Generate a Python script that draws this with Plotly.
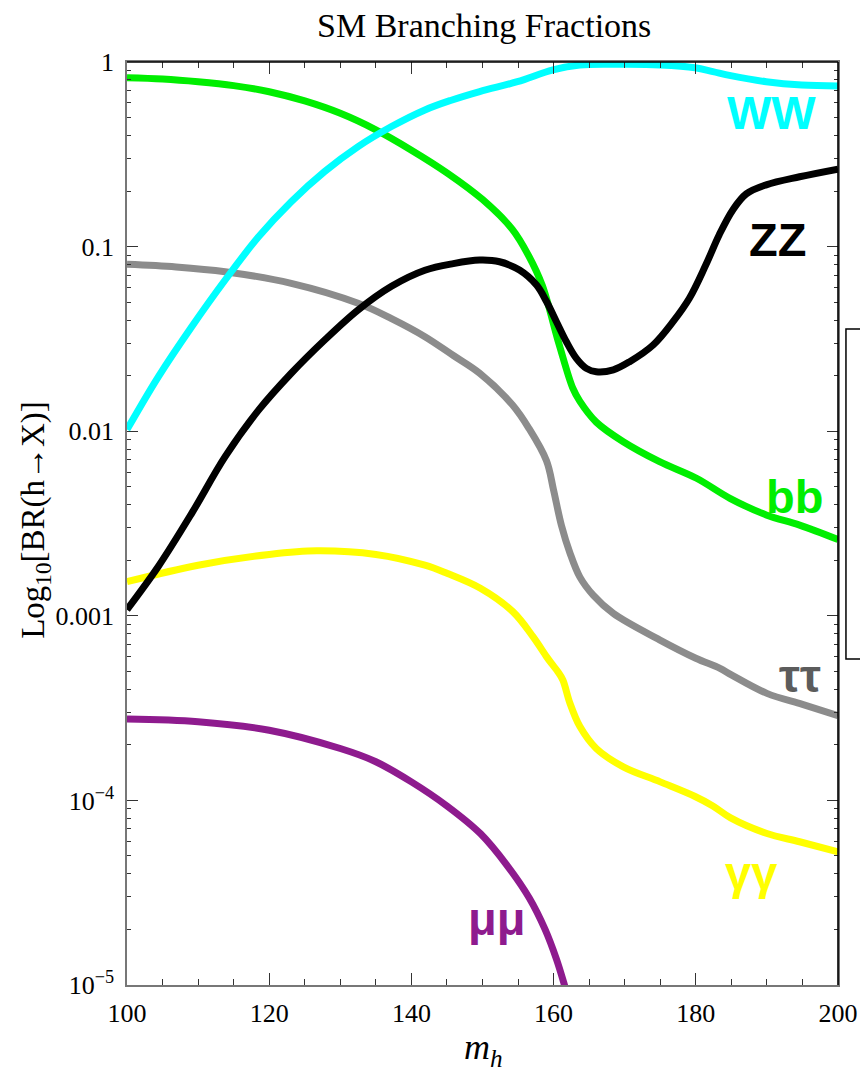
import plotly.graph_objects as go

# ---- data ----
mh_ww = [100, 104.4, 109.1, 113.8, 118.5, 123.1, 127.8, 132.5, 137.2, 141.9, 145.5, 149.6, 154.9, 159.9, 163.7,
         170, 175, 179.9, 182.4, 184.9, 189.9, 194.9, 200]
br_ww = [0.0102, 0.0197, 0.0368, 0.0659, 0.113, 0.175, 0.255, 0.348, 0.447, 0.550, 0.619, 0.692, 0.782, 0.906,
         0.964, 0.971, 0.964, 0.931, 0.887, 0.843, 0.782, 0.750, 0.741]

mh_bb = [100, 105, 110, 115, 120, 125, 130, 135, 140, 145, 150, 154.2, 156.5, 158.4, 160.8, 162.7, 163.7, 166,
         169.8, 174.9, 180.1, 184.8, 189.9, 194.6, 200]
br_bb = [0.822, 0.809, 0.782, 0.745, 0.690, 0.615, 0.527, 0.429, 0.333, 0.251, 0.180, 0.124, 0.0891, 0.0617,
         0.0293, 0.0171, 0.0145, 0.0112, 0.00877, 0.00684, 0.00556, 0.00433, 0.00352, 0.00310, 0.00259]

mh_zz = [100, 104.4, 109.1, 113.8, 118.5, 123.1, 127.8, 132.5, 137.2, 141.9, 145.9, 149.6, 152.4, 155.2, 157.6,
         159.0, 160.4, 161.8, 163.2, 164.6, 166.0, 168.4, 170.7, 174.0, 176.8, 179.1, 181.4, 183.3, 185.2, 187.1,
         189.9, 194.6, 200]
br_zz = [0.00108, 0.00185, 0.00359, 0.00728, 0.0130, 0.0206, 0.0312, 0.0454, 0.0610, 0.0745, 0.0809, 0.0845,
         0.0828, 0.0746, 0.0619, 0.0504, 0.0392, 0.0305, 0.0248, 0.0219, 0.0210, 0.0215, 0.0238, 0.0293, 0.0392,
         0.0525, 0.0794, 0.116, 0.158, 0.193, 0.216, 0.239, 0.263]

mh_tt = [100, 106.9, 113.8, 123.1, 132.5, 137.2, 141.9, 145.9, 149.6, 154.2, 156.5, 159.0, 160.0, 161.1, 162.3,
         163.7, 165.6, 168.4, 174.9, 180, 183.4, 185, 190, 195, 200]
br_tt = [0.0802, 0.0776, 0.0731, 0.0632, 0.0493, 0.0407, 0.0325, 0.0257, 0.0206, 0.0139, 0.0104, 0.00692, 0.00479,
         0.00309, 0.00219, 0.00162, 0.00129, 0.00103, 0.000741, 0.000589, 0.000519, 0.000479, 0.00038, 0.000331,
         0.000288]

mh_aa = [100, 110, 120, 126.7, 135, 141.9, 145, 149.7, 154.3, 157.1, 159.0, 159.7, 160.6, 161.3, 162.3,
         163.7, 166.0, 169.8, 175.0, 179.9, 182.4, 184.9, 189.9, 194.6, 200]
br_aa = [0.00153, 0.00188, 0.00215, 0.00225, 0.00215, 0.00188, 0.0017, 0.00141, 0.00105, 0.000771,
         0.000601, 0.000552, 0.000498, 0.000449, 0.000336, 0.000251, 0.000191, 0.000152, 0.000126, 0.000105,
         9.33e-5, 8.04e-5, 6.64e-5, 5.97e-5, 5.27e-5]

mh_mm = [100, 110, 120, 130, 135, 140, 145, 149.7, 153.6, 156.6, 158.8, 160.4, 161.6, 163]
br_mm = [0.000276, 0.000267, 0.00024, 0.000191, 0.000162, 0.000126, 9.33e-5, 6.61e-5, 4.37e-5, 2.95e-5, 2.0e-5,
         1.38e-5, 9.77e-6, 6.3e-6]

y_tickvals = [1e-5, 1e-4, 1e-3, 1e-2, 1e-1, 1]
y_ticktext = ["10<sup>\u22125</sup>", "10<sup>\u22124</sup>", "0.001", "0.01", "0.1", "1"]
x_tickvals = [100, 120, 140, 160, 180, 200]

series = [
    (mh_bb, br_bb, "#00ee00", "bb"),
    (mh_tt, br_tt, "#8c8c8c", "\u03c4\u03c4"),
    (mh_aa, br_aa, "#ffff00", "\u03b3\u03b3"),
    (mh_mm, br_mm, "#8e1b8e", "\u03bc\u03bc"),
    (mh_ww, br_ww, "#00ffff", "WW"),
    (mh_zz, br_zz, "#000000", "ZZ"),
]

fig = go.Figure()
for xs, ys, col, name in series:
    fig.add_trace(go.Scatter(x=xs, y=ys, mode="lines", name=name,
                             line=dict(color=col, width=7, shape="spline", smoothing=1.0)))

minor_y = [k * 10.0 ** e for e in range(-5, 0) for k in range(2, 10)]

serif = "Liberation Serif, Times New Roman, serif"
sans = "Liberation Sans, Arial, sans-serif"

fig.update_layout(
    width=860, height=1073,
    margin=dict(l=127, r=22, t=62, b=88, autoexpand=False),
    paper_bgcolor="white", plot_bgcolor="white",
    showlegend=False,
    font=dict(family=serif, size=25, color="black"),
)
fig.update_xaxes(
    range=[100, 200], tickmode="array", tickvals=x_tickvals, automargin=False,
    ticks="inside", ticklen=12, tickwidth=1.3, tickcolor="#333",
    showline=True, linecolor="#777", linewidth=1.6, mirror="allticks",
    showgrid=False, zeroline=False, ticklabelstandoff=4,
    tickfont=dict(family=serif, size=26, color="black"),
    minor=dict(dtick=5, ticks="inside", ticklen=6, tickwidth=1.1, tickcolor="#333", showgrid=False),
)
fig.update_yaxes(
    type="log", range=[-5, 0], tickmode="array", tickvals=y_tickvals, ticktext=y_ticktext, automargin=False,
    ticks="inside", ticklen=11, tickwidth=1.3, tickcolor="#333",
    showline=True, linecolor="#777", linewidth=1.6, mirror="allticks",
    showgrid=False, zeroline=False, ticklabelstandoff=6,
    tickfont=dict(family=serif, size=26, color="black"),
    minor=dict(tickmode="array", tickvals=minor_y, ticks="inside", ticklen=4, tickwidth=1.1,
               tickcolor="#333", showgrid=False),
)

# black top / right frame lines
fig.add_shape(type="line", xref="paper", yref="paper", x0=0, x1=1, y0=1, y1=1,
              line=dict(color="black", width=1.6))
fig.add_shape(type="line", xref="paper", yref="paper", x0=1, x1=1, y0=0, y1=1,
              line=dict(color="black", width=1.6))
# partially visible legend frame at right edge
fig.add_shape(type="rect", xref="paper", yref="paper", x0=1.0112, x1=1.2, y0=0.3532, y1=0.7107,
              line=dict(color="black", width=1.5), fillcolor="rgba(0,0,0,0)")

labels = [
    ("WW", 190.65, -0.276, "#00ffff"),
    ("ZZ", 191.5, -0.964, "#000000"),
    ("bb", 193.9, -2.356, "#00ee00"),
    ("\u03c4\u03c4", 194.6, -3.326, "#5c5c5c"),
    ("\u03b3\u03b3", 187.7, -4.39, "#ffff00"),
    ("\u03bc\u03bc", 152.0, -4.64, "#8e1b8e"),
]
for txt, x, ly, col in labels:
    fig.add_annotation(text="<b>%s</b>" % txt, x=x, y=ly, xref="x", yref="y", showarrow=False,
                       font=dict(family=sans, size=47, color=col), xanchor="center", yanchor="middle")

fig.add_annotation(text="SM Branching Fractions", xref="paper", yref="paper", x=0.502, y=1.040,
                   showarrow=False, font=dict(family=serif, size=34, color="black"),
                   xanchor="center", yanchor="middle")
fig.add_annotation(text="Log<sub>10</sub>[BR(h\u2192X)]", xref="paper", yref="paper", x=-0.128, y=0.504,
                   textangle=-90, showarrow=False, font=dict(family=serif, size=33, color="black"),
                   xanchor="center", yanchor="middle")
fig.add_annotation(text="<i>m</i><sub><i>h</i></sub>", xref="paper", yref="paper", x=0.502, y=-0.0704,
                   showarrow=False, font=dict(family=serif, size=36, color="black"),
                   xanchor="center", yanchor="middle")

fig.write_html("out.html")
